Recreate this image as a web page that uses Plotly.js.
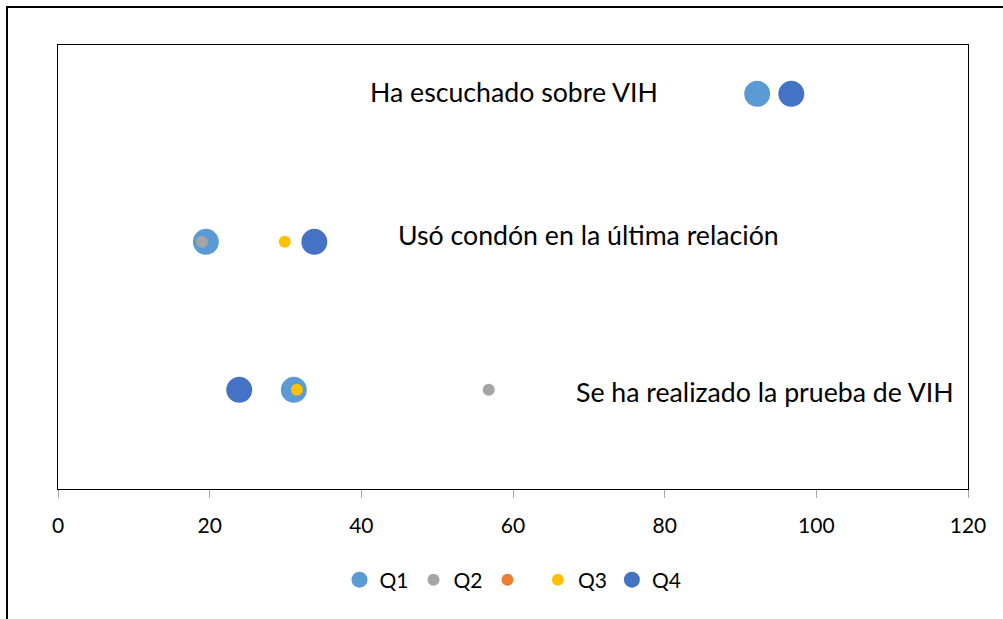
<!DOCTYPE html>
<html>
<head>
<meta charset="utf-8">
<script src="https://cdn.plot.ly/plotly-3.0.1.min.js"></script>
<style>
  body { margin: 0; background: #fff; }
  #frame { position: absolute; left: 6px; top: 6px; width: 1020px; height: 640px; border: 2px solid #000; }
  #chart { position: absolute; left: 0; top: 0; width: 1003px; height: 619px; }
</style>
</head>
<body>
<div id="frame"></div>
<div id="chart"></div>
<script>
// rows: 1 = prueba, 2 = condón, 3 = escuchado
var rowY = [2.67, 1.67, 0.67];
var labels = ['Ha escuchado sobre VIH', 'Usó condón en la última relación', 'Se ha realizado la prueba de VIH'];
var labelX = [60.1, 69.9, 93.2];

var q1 = [92.2, 19.5, 31.1];
var q2 = [null, 19.0, 56.8];
var q3 = [null, 29.9, 31.5];
var q4 = [96.7, 33.8, 23.9];

var xTicks = [0, 20, 40, 60, 80, 100, 120];

function series(name, xs, color, size) {
    return {
        x: xs,
        y: rowY,
        name: name,
        type: 'scatter',
        mode: 'markers',
        marker: {color: color, size: size},
        hoverinfo: 'x'
    };
}

var data = [
    series('Q1', q1, '#5B9BD5', 26),
    series('Q2', q2, '#A5A5A5', 12),
    series(' ', [null, null, null], '#ED7D31', 12),
    series('Q3', q3, '#FFC000', 12),
    series('Q4', q4, '#4472C4', 26)
];

var annotations = [];
for (var i = 0; i < labels.length; i++) {
    annotations.push({
        x: labelX[i], y: rowY[i], text: labels[i],
        showarrow: false, xanchor: 'center', yanchor: 'middle',
        yshift: [2, 7, -2][i],
        font: {family: 'Lato', size: 26.7, color: '#000'}
    });
}

var layout = {
    width: 1003, height: 619,
    margin: {l: 58, r: 35, t: 45, b: 130},
    paper_bgcolor: 'rgba(0,0,0,0)',
    plot_bgcolor: '#fff',
    font: {family: 'Lato', size: 21, color: '#000'},
    xaxis: {
        range: [0, 120], tickvals: xTicks, ticks: 'outside', ticklen: 8,
        tickcolor: '#A6A6A6', showgrid: false, zeroline: false,
        showline: true, linecolor: '#000', linewidth: 1, mirror: true,
        tickfont: {size: 21}, ticklabelstandoff: 10
    },
    yaxis: {
        range: [0, 3], showticklabels: false, ticks: '', showgrid: false,
        zeroline: false, showline: true, linecolor: '#000', linewidth: 1, mirror: true
    },
    showlegend: true,
    legend: {
        orientation: 'h', x: 0.5, xanchor: 'center', y: -0.205, yanchor: 'middle',
        font: {size: 21}, itemwidth: 30
    },
    annotations: annotations
};

Plotly.newPlot('chart', data, layout, {displayModeBar: false});
</script>
</body>
</html>
